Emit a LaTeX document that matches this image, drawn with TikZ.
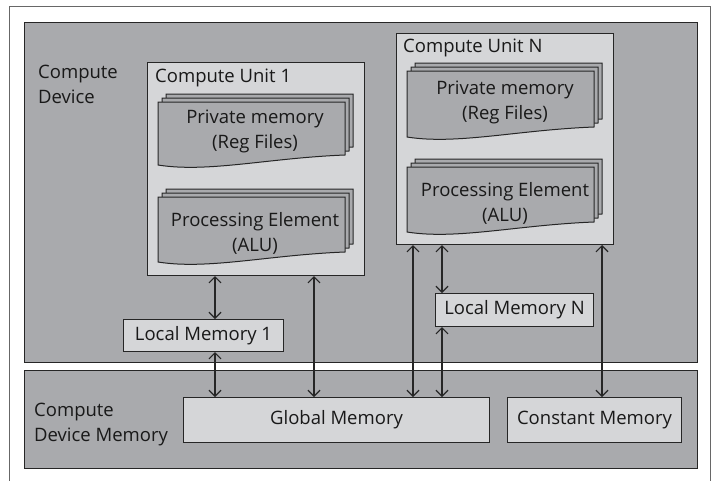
\documentclass[tikz,border=0pt]{standalone}
\usepackage{fontspec}
\setmainfont{Open Sans}
\usetikzlibrary{arrows.meta}
\definecolor{device}{RGB}{169,170,173}
\definecolor{unit}{RGB}{213,214,216}
\colorlet{edge}{black!85}
\newcommand{\boxfont}{\fontsize{18.5}{25}\selectfont}
% one sheet of a stacked document, top-left at the origin
\newcommand{\docpage}[1]{(0,0) -- (187,0) -- (187,#1-10) .. controls (110,#1-7) and (50,#1+8) .. (0,#1) -- cycle}
\newcommand{\docstack}[3]{%
	\draw[page,shift={(#1+8,#2-8)}] \docpage{#3};
	\draw[page,shift={(#1+4,#2-4)}] \docpage{#3};
	\draw[page,shift={(#1,#2)}] \docpage{#3};}
\tikzset{
	box/.style={draw=edge,line width=1pt,inner sep=0pt,anchor=north west},
	devicebox/.style={box,fill=device},
	unitbox/.style={box,fill=unit},
	membox/.style={box,fill=unit,text=black!90},
	page/.style={draw=edge,line width=1pt,fill=device},
	txt/.style={inner sep=0pt,text=black!90,align=left,anchor=west},
	doctxt/.style={inner sep=0pt,text=black!90,align=center},
	link/.style={<->,draw=edge,line width=1.2pt},
}

\begin{document}
\begin{tikzpicture}[x=1pt,y=-1pt,font=\boxfont,>={Straight Barb[length=6pt,width=12pt]}]
	\useasboundingbox (0,0) rectangle (712,480);
	\draw[edge!70,line width=0.8pt,fill=white] (9,6) rectangle (710,490);

	% device and device memory
	\node[devicebox,minimum width=673pt,minimum height=340pt] (dev) at (24,22) {};
	\node[devicebox,minimum width=673pt,minimum height=98pt] (devmem) at (24,370) {};
	\node[txt] (devtxt) at (38,84) {Compute\\Device};
	\node[txt] (devmemtxt) at (34,425) {Compute\\Device Memory};

	% compute units
	\node[unitbox,minimum width=217pt,minimum height=213pt] (cu1) at (147,62) {};
	\node[unitbox,minimum width=217pt,minimum height=211pt] (cuN) at (396,33) {};
	\node[txt] (cu1txt) at (155,78) {Compute Unit 1};
	\node[txt] (cuNtxt) at (403,48) {Compute Unit N};

	\docstack{158}{102}{63}
	\docstack{158}{197}{65}
	\docstack{407}{71}{66}
	\docstack{407}{167}{65}
	\node[doctxt] (pm1) at (255,131) {Private memory\\(Reg Files)};
	\node[doctxt] (pe1) at (255,233) {Processing Element\\(ALU)};
	\node[doctxt] (pmN) at (505,102) {Private memory\\(Reg Files)};
	\node[doctxt] (peN) at (505,203) {Processing Element\\(ALU)};

	% memories
	\node[membox,minimum width=160pt,minimum height=32pt] (lm1) at (123,319) {Local Memory 1};
	\node[membox,minimum width=158pt,minimum height=33pt] (lmN) at (435,293) {Local Memory N};
	\node[membox,minimum width=306pt,minimum height=45pt] (gm) at (183,397) {Global Memory};
	\node[membox,minimum width=174pt,minimum height=45pt] (cm) at (507,397) {Constant Memory};

	% connections
	\coordinate (lane1) at (215,0);
	\coordinate (lane2) at (314,0);
	\coordinate (lane3) at (413,0);
	\coordinate (lane4) at (442,0);
	\coordinate (lane5) at (602,0);
	\draw[link] (cu1.south -| lane1) -- (lm1.north -| lane1);
	\draw[link] (lm1.south -| lane1) -- (gm.north -| lane1);
	\draw[link] (cu1.south -| lane2) -- (gm.north -| lane2);
	\draw[link] (cuN.south -| lane3) -- (gm.north -| lane3);
	\draw[link] (cuN.south -| lane4) -- (lmN.north -| lane4);
	\draw[link] (lmN.south -| lane4) -- (gm.north -| lane4);
	\draw[link] (cuN.south -| lane5) -- (cm.north -| lane5);
\end{tikzpicture}
\end{document}
